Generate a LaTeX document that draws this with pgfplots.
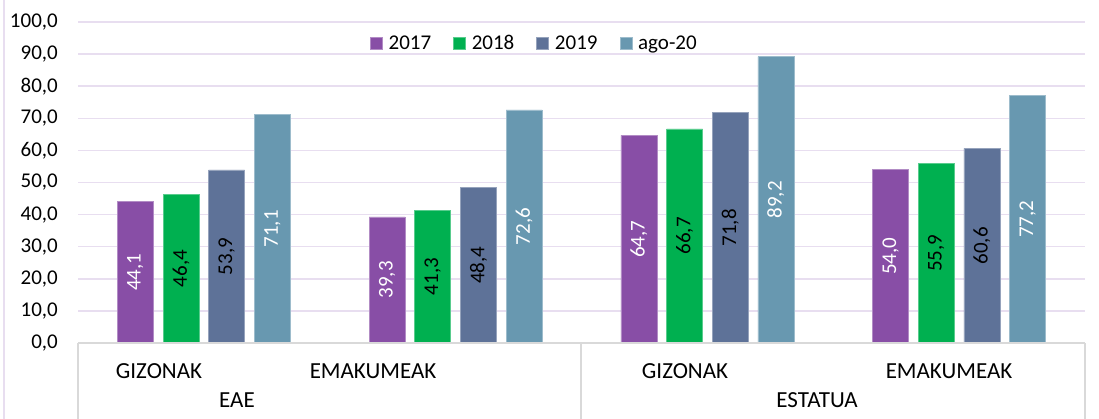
\documentclass[border=0pt]{standalone}
\usepackage{fontspec}
\setmainfont{Carlito}
\usepackage{pgfplots}
\pgfplotsset{compat=1.18}
\definecolor{c17}{RGB}{136,78,166}
\definecolor{c18}{RGB}{0,176,80}
\definecolor{c19}{RGB}{94,114,152}
\definecolor{c20}{RGB}{104,152,176}
\definecolor{gridc}{RGB}{232,222,240}
\definecolor{boxc}{RGB}{217,217,217}
\newcommand{\fs}{\fontsize{21}{24}\selectfont}
\newcommand{\cf}{\fontsize{23}{26}\selectfont}
\begin{document}
\begin{tikzpicture}[x=1pt,y=1pt]
\useasboundingbox (0,0) rectangle (1099,419);
\begin{axis}[at={(78pt,76pt)}, anchor=south west, width=1007pt, height=321pt, scale only axis,
 xmin=-0.5, xmax=3.5, ymin=0, ymax=100, ytick={0,10,...,100}, xtick=\empty,
 axis line style={draw=none}, major tick length=0pt,
 ymajorgrids, major grid style={gridc, line width=1.5pt},
 yticklabel style={font=\fs, inner sep=0pt, xshift=-20pt},
 yticklabel={\pgfmathprintnumber[fixed,fixed zerofill,precision=1,use comma,assume math mode=true]{\tick}},
 ybar=9.7pt, bar width=36pt,
 legend image code/.code={\fill[#1] (0pt,-6pt) rectangle (12pt,6pt);},
 legend columns=4,
 legend style={font=\fs, draw=none, fill=none, inner sep=0pt, outer sep=0pt,
   at={(rel axis cs:0.29,0.9346)}, anchor=west,
   /tikz/every odd column/.append style={column sep=6pt},
   /tikz/every even column/.append style={column sep=22pt},
   nodes={inner sep=0pt}},
 nodes near coords={\pgfmathprintnumber[fixed,fixed zerofill,precision=1,use comma,assume math mode=true]{\pgfplotspointmeta}},
 visualization depends on={y \as \rawy},
 every node near coord/.append style={font=\fs, anchor=center, shift={(axis direction cs:0,-\rawy/2)}, rotate=90},
]
\addplot[fill=c17, draw=c17!65!white, line width=0.6pt, every node near coord/.append style={text=white}]
  coordinates {(0,44.1) (1,39.3) (2,64.7) (3,54.0)};
\addplot[fill=c18, draw=c18!65!white, line width=0.6pt, every node near coord/.append style={text=black}]
  coordinates {(0,46.4) (1,41.3) (2,66.7) (3,55.9)};
\addplot[fill=c19, draw=c19!65!white, line width=0.6pt, every node near coord/.append style={text=black}]
  coordinates {(0,53.9) (1,48.4) (2,71.8) (3,60.6)};
\addplot[fill=c20, draw=c20!65!white, line width=0.6pt, every node near coord/.append style={text=white}]
  coordinates {(0,71.1) (1,72.6) (2,89.2) (3,77.2)};
\legend{2017,2018,2019,ago-20}
\end{axis}
\draw[boxc, line width=1.5pt] (78,76) -- (1085,76);
\draw[boxc, line width=1.5pt] (78,0) -- (78,76);
\draw[boxc, line width=1.5pt] (581,0) -- (581,76);
\draw[boxc, line width=1.5pt] (1085,0) -- (1085,76);
\draw[gridc, line width=1.5pt] (4,0) -- (4,419);
\node[font=\cf, anchor=base, inner sep=0pt] at (159,40) {GIZONAK};
\node[font=\cf, anchor=base, inner sep=0pt] at (373,40) {EMAKUMEAK};
\node[font=\cf, anchor=base, inner sep=0pt] at (685,40) {GIZONAK};
\node[font=\cf, anchor=base, inner sep=0pt] at (949,40) {EMAKUMEAK};
\node[font=\cf, anchor=base, inner sep=0pt] at (237,11) {EAE};
\node[font=\cf, anchor=base, inner sep=0pt] at (817,11) {ESTATUA};
\end{tikzpicture}
\end{document}
